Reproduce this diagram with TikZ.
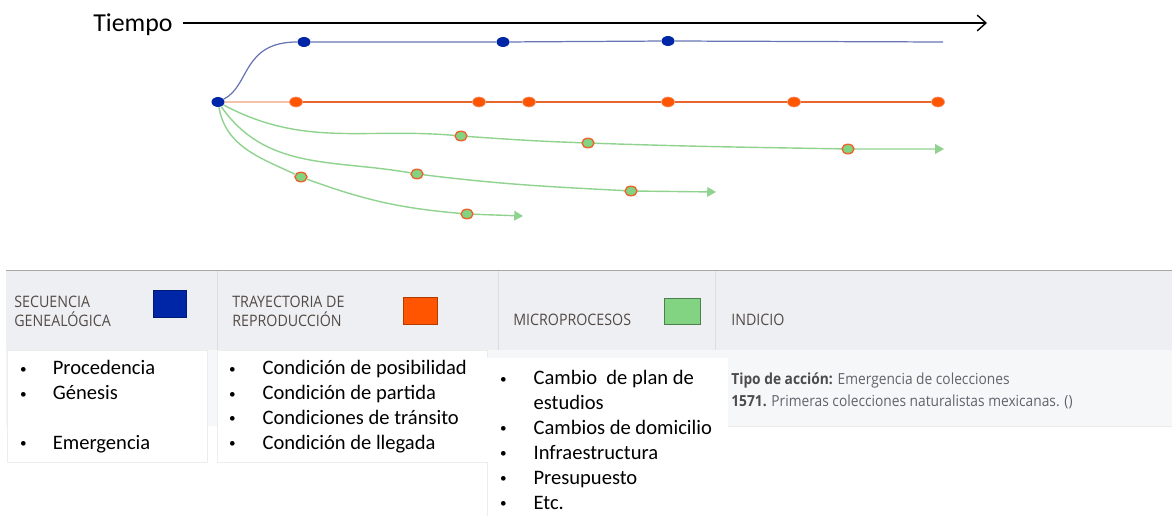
\documentclass[tikz,border=0pt]{standalone}
\usepackage{fontspec}
\setmainfont{Carlito}
\newfontfamily\headfont[FakeStretch=0.9]{Open Sans}
\usepackage{tikz}
\usetikzlibrary{arrows,arrows.meta,backgrounds,shapes.geometric}
\definecolor{genblue}{HTML}{0026A8}
\definecolor{genline}{HTML}{6674B4}
\definecolor{reporange}{HTML}{FF5500}
\definecolor{repline}{HTML}{E8662E}
\definecolor{microgreen}{HTML}{82D482}
\definecolor{microline}{HTML}{8FD38F}
\definecolor{headbg}{HTML}{EDEFF3}
\definecolor{headsep}{HTML}{DADDE3}
\definecolor{rowbg}{HTML}{F6F7F9}
\definecolor{headtext}{HTML}{544A45}
\definecolor{infotext}{HTML}{60646A}
\newcommand{\lbul}{\makebox[0pt]{\raisebox{1pt}{\fontsize{7.5}{8}\selectfont\textbullet}}}
\tikzset{
  gendot/.style={ellipse,fill=genblue,minimum width=0.26cm,minimum height=0.2cm,inner sep=0pt},
  repdot/.style={ellipse,fill=reporange,draw=repline!70!white,minimum width=0.26cm,minimum height=0.2cm,inner sep=0pt},
  microdot/.style={ellipse,fill=microgreen,draw=repline,line width=0.8pt,minimum width=0.24cm,minimum height=0.19cm,inner sep=0pt},
  microarrow/.style={microline,line width=0.8pt,-{Triangle[length=5pt,width=5.5pt]}},
  headlabel/.style={align=left,font=\headfont\fontsize{9}{10.8}\selectfont,text=headtext,inner sep=0pt},
  listbox/.style={fill=white,draw=black!7},
  listtext/.style={anchor=north west,inner sep=0pt,font=\fontsize{11.7}{14.2}\selectfont},
}
\begin{document}
\begin{tikzpicture}[x=0.02cm,y=-0.02cm]
\useasboundingbox (0,0) rectangle (1172,516);
% tiempo
\node[anchor=base west,inner sep=0pt,font=\fontsize{14.7}{17}\selectfont] (time) at (93,32) {Tiempo};
\coordinate (timestart) at (183,23);
\coordinate (timeend) at (987,23);
\draw[line width=0.8pt,-{Straight Barb[length=5pt,width=9pt]}] (timestart) -- (timeend);

% puntos
\node[gendot] (root) at (218,102) {};
\node[gendot] (s1) at (304,42) {};
\node[gendot] (s2) at (503,42) {};
\node[gendot] (s3) at (668,41) {};
\coordinate (send) at (943,42);
\foreach \x [count=\i] in {296,479,529,668,794,938}
  \node[repdot] (t\i) at (\x,102) {};
\node[microdot] (m11) at (461,136) {};
\node[microdot] (m12) at (588,143) {};
\node[microdot] (m13) at (848,149) {};
\coordinate (mend1) at (944,149);
\node[microdot] (m21) at (417,174) {};
\node[microdot] (m22) at (631,191) {};
\coordinate (mend2) at (716,192);
\node[microdot] (m31) at (301,177) {};
\node[microdot] (m32) at (467,214) {};
\coordinate (mend3) at (523,216);

\begin{scope}[on background layer]
\draw[genline,line width=0.7pt] (root) .. controls (250,86) and (242,42) .. (s1) -- (s2) -- (s3) -- (send);
\draw[repline!40,line width=0.7pt] (root) -- (t1);
\draw[repline,line width=0.7pt] (t1) -- (t2) -- (t3) -- (t4) -- (t5) -- (t6);
\draw[microarrow] (root) to[out=-28,in=175] (m11) to[out=-4,in=178] (m12) to[out=-2,in=179] (m13) -- (mend1);
\draw[microarrow] (root) to[out=-55,in=170] (m21) to[out=-7,in=177] (m22) -- (mend2);
\draw[microarrow] (root) to[out=-80,in=155] (m31) to[out=-20,in=175] (m32) -- (mend3);
\end{scope}

% tabla
\fill[headbg] (6,270) rectangle (1172,350);
\draw[black!35] (6,270) -- (1172,270);
\foreach \x in {217,498,715}
  \draw[headsep] (\x,271) -- (\x,350);
\fill[rowbg] (6,350) rectangle (1172,426);
\draw[black!8] (728,426) -- (1172,426);
\draw[listbox] (7,350) rectangle (207,462);
\draw[listbox] (217,350) rectangle (487,462);
\fill[white] (487,358) rectangle (728,516);
\draw[black!7] (487,462) -- (487,516);

\node[headlabel,anchor=north west] (hsec) at (14,296) {SECUENCIA\\GENEALÓGICA};
\node[fill=genblue,draw=genblue!70!black,minimum width=0.66cm,minimum height=0.54cm,inner sep=0pt] (ksec) at (169.5,303.5) {};
\node[headlabel,anchor=north west] (htra) at (232,296) {TRAYECTORIA DE\\REPRODUCCIÓN};
\node[fill=reporange,draw=reporange!70!black,minimum width=0.68cm,minimum height=0.54cm,inner sep=0pt] (ktra) at (420,310.5) {};
\node[headlabel,anchor=base west] (hmic) at (513,326) {MICROPROCESOS};
\node[fill=microgreen,draw=microgreen!60!black,minimum width=0.72cm,minimum height=0.52cm,inner sep=0pt] (kmic) at (682,311) {};
\node[headlabel,anchor=base west] (hind) at (731,326) {INDICIO};

\node[listtext] (lsec) at (23,357) {\begin{tabular}{@{}l@{\hspace{16.8pt}}l@{}}
\lbul & Procedencia\\
\lbul & Génesis\\
 & \\
\lbul & Emergencia
\end{tabular}};
\node[listtext] (ltra) at (232,357) {\begin{tabular}{@{}l@{\hspace{17.2pt}}l@{}}
\lbul & Condición de posibilidad\\
\lbul & Condición de partida\\
\lbul & Condiciones de tránsito\\
\lbul & Condición de llegada
\end{tabular}};
\node[listtext] (lmic) at (503,367) {\begin{tabular}{@{}l@{\hspace{17.2pt}}l@{}}
\lbul & Cambio\ \ de plan de\\
 & estudios\\
\lbul & Cambios de domicilio\\
\lbul & Infraestructura\\
\lbul & Presupuesto\\
\lbul & Etc.
\end{tabular}};
\node[align=left,anchor=west,inner sep=0pt,text=infotext,font=\headfont\fontsize{8.7}{12.5}\selectfont] (lind) at (731,391)
  {\textbf{\color{black!70}Tipo de acción:} Emergencia de colecciones\\
   \textbf{\color{black!70}1571.} Primeras colecciones naturalistas mexicanas. ()};
\end{tikzpicture}
\end{document}
